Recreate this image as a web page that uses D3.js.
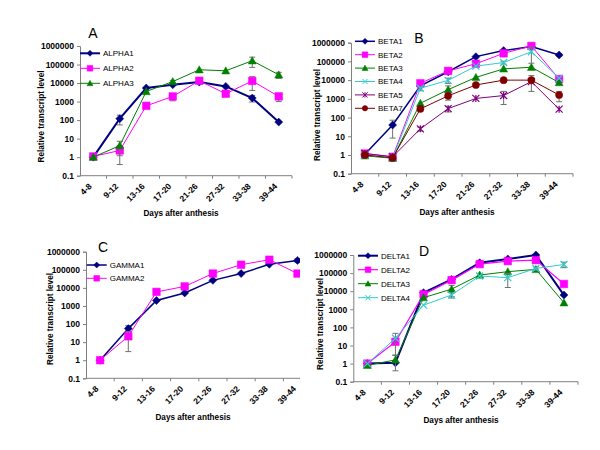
<!DOCTYPE html>
<html>
<head>
<meta charset="utf-8">
<script src="https://cdn.jsdelivr.net/npm/d3@7"></script>
<style>
  body { margin: 0; background: #fff; }
  svg text { font-family: Arial, "Liberation Sans", sans-serif; }
</style>
</head>
<body>
<div id="chart"></div>
<script>
// categories and log ticks
const categories = ["4-8", "9-12", "13-16", "17-20", "21-26", "27-32", "33-38", "39-44"];
const yTicks = [0.1, 1, 10, 100, 1000, 10000, 100000, 1000000];

// panel A
const alpha1 = [1, 120, 5400, 8100, 11300, 6600, 1550, 78];
const alpha1Err = [0, 65, 400, 0, 0, 0, 600, 0];
const alpha2 = [1.1, 2.3, 590, 1900, 13300, 2650, 13000, 1900];
const alpha2Err = [0, 1.9, 0, 800, 0, 0, 9000, 900];
const alpha3 = [1, 4.2, 3500, 12000, 52000, 46000, 160000, 28000];
const alpha3Err = [0, 3, 0, 2000, 0, 0, 90000, 10000];

// panel B
const beta1 = [1.1, 40, 4900, 28000, 180000, 380000, 620000, 220000];
const beta1Err = [0, 32, 0, 5000, 0, 0, 0, 30000];
const beta2 = [1.2, 0.8, 6800, 31000, 75000, 270000, 670000, 11500];
const beta2Err = [0.3, 0, 0, 0, 0, 0, 0, 0];
const beta3 = [0.9, 0.67, 580, 3100, 14000, 40000, 49000, 7400];
const beta3Err = [0, 0, 0, 1800, 0, 0, 0, 0];
const beta4 = [1, 0.7, 3700, 9700, 56000, 87000, 330000, 12600];
const beta4Err = [0, 0, 1000, 3000, 0, 15000, 250000, 0];
const beta5 = [1.2, 0.8, 25, 300, 1050, 1500, 8300, 280];
const beta5Err = [0.4, 0, 6, 100, 0, 1000, 0, 0];
const beta7 = [1, 0.7, 290, 1450, 5500, 10000, 10000, 1600];
const beta7Err = [0.3, 0, 0, 600, 0, 0, 7500, 900];

// panel C
const gamma1 = [1, 56, 2000, 5200, 26000, 62000, 200000, 330000];
const gamma1Err = [0.3, 25, 0, 0, 0, 0, 0, 80000];
const gamma2 = [1, 21, 6000, 12000, 62000, 190000, 360000, 62000];
const gamma2Err = [0, 18, 0, 0, 0, 0, 0, 0];

// panel D
const delta1 = [1, 1.1, 8300, 45000, 370000, 600000, 1000000, 6100];
const delta1Err = [0, 0, 0, 0, 0, 0, 0, 0];
const delta2 = [1, 16, 6700, 41000, 315000, 460000, 520000, 25000];
const delta2Err = [0, 0, 0, 10000, 0, 0, 0, 0];
const delta3 = [0.8, 1.6, 4400, 13000, 78000, 120000, 160000, 2300];
const delta3Err = [0, 1.2, 0, 8000, 0, 0, 0, 0];
const delta4 = [1, 25, 1700, 6200, 69000, 56000, 180000, 300000];
const delta4Err = [0, 22, 0, 2000, 0, 40000, 40000, 100000];

const NAVY = "#000080", MAG = "#ff00ff", GREEN = "#008000", CYAN = "#33cccc",
      PURPLE = "#800080", BROWN = "#800000";

const panels = [
  { letter: "A", ox: 0, oy: 0, left: 80, right: 292, top: 46, bottom: 175.7,
    letterPos: [93, 38], legend: { x: 80, y: 53.3, dy: 15 },
    ylab: [44, 116.5], xlab: [181, 215.5],
    series: [
      { name: "ALPHA1", v: alpha1, e: alpha1Err, c: NAVY, m: "diamond", w: 2 },
      { name: "ALPHA2", v: alpha2, e: alpha2Err, c: MAG, m: "square", w: 1 },
      { name: "ALPHA3", v: alpha3, e: alpha3Err, c: GREEN, m: "triangle", w: 1 }
    ] },
  { letter: "B", ox: 300, oy: 0, left: 51, right: 273, top: 42.7, bottom: 173.7,
    letterPos: [119, 43], legend: { x: 55, y: 41.3, dy: 13.4 },
    ylab: [19.5, 115], xlab: [157, 215],
    series: [
      { name: "BETA1", v: beta1, e: beta1Err, c: NAVY, m: "diamond", w: 1.5 },
      { name: "BETA2", v: beta2, e: beta2Err, c: MAG, m: "square", w: 1 },
      { name: "BETA3", v: beta3, e: beta3Err, c: GREEN, m: "triangle", w: 1 },
      { name: "BETA4", v: beta4, e: beta4Err, c: CYAN, m: "x", w: 1 },
      { name: "BETA5", v: beta5, e: beta5Err, c: PURPLE, m: "star", w: 1 },
      { name: "BETA7", v: beta7, e: beta7Err, c: BROWN, m: "circle", w: 1 }
    ] },
  { letter: "C", ox: 0, oy: 225, left: 86, right: 311.6, top: 26.7, bottom: 153.3,
    letterPos: [103, 26.5], legend: { x: 86.7, y: 40, dy: 13.3 },
    ylab: [53, 94], xlab: [193, 194.5],
    series: [
      { name: "GAMMA1", v: gamma1, e: gamma1Err, c: NAVY, m: "diamond", w: 1.5 },
      { name: "GAMMA2", v: gamma2, e: gamma2Err, c: MAG, m: "square", w: 1 }
    ] },
  { letter: "D", ox: 300, oy: 225, left: 53.3, right: 278, top: 30, bottom: 156.7,
    letterPos: [124, 31], legend: { x: 58, y: 30.7, dy: 14 },
    ylab: [23.3, 99], xlab: [161, 198],
    series: [
      { name: "DELTA1", v: delta1, e: delta1Err, c: NAVY, m: "diamond", w: 2 },
      { name: "DELTA2", v: delta2, e: delta2Err, c: MAG, m: "square", w: 1.2 },
      { name: "DELTA3", v: delta3, e: delta3Err, c: GREEN, m: "triangle", w: 1 },
      { name: "DELTA4", v: delta4, e: delta4Err, c: CYAN, m: "x", w: 1 }
    ] }
];

// marker paths, r = half size
const markerPath = (m, r) => {
  switch (m) {
    case "diamond": return `M0,${-r}L${r},0L0,${r}L${-r},0Z`;
    case "square": return `M${-r},${-r}H${r}V${r}H${-r}Z`;
    case "triangle": return `M0,${-r}L${r},${r * 0.8}L${-r},${r * 0.8}Z`;
    case "x": return `M${-r},${-r}L${r},${r}M${-r},${r}L${r},${-r}`;
    case "star": return `M${-r},${-r}L${r},${r}M${-r},${r}L${r},${-r}M0,${-r}V${r}`;
    case "circle": return `M${r},0A${r},${r} 0 1,1 ${-r},0A${r},${r} 0 1,1 ${r},0Z`;
  }
};
const markerSize = { diamond: 4, square: 3.8, triangle: 4, x: 3.5, star: 3.5, circle: 3.6 };
const isStroke = m => m === "x" || m === "star";

const root = d3.select("#chart").append("svg")
    .attr("width", 600)
    .attr("height", 450)
    .style("background", "#fff");

panels.forEach(p => {
  const svg = root.append("svg")
      .attr("x", p.ox).attr("y", p.oy)
      .attr("width", 300).attr("height", 225)
      .style("overflow", "hidden");

  const x = d3.scaleBand().domain(categories).range([p.left, p.right]).padding(0);
  const y = d3.scaleLog().domain([0.1, 1000000]).range([p.bottom, p.top]);
  const cx = d => x(d) + x.bandwidth() / 2;

  // y axis
  const yAxis = svg.append("g")
      .attr("transform", `translate(${p.left},0)`)
      .call(d3.axisLeft(y).tickValues(yTicks).tickSize(3).tickPadding(3)
        .tickFormat(d => d < 1 ? "0.1" : d3.format("d")(d)));
  yAxis.select(".domain").attr("stroke", "#808080");
  yAxis.selectAll(".tick line").attr("stroke", "#808080");
  yAxis.selectAll("text").attr("font-size", 8.5).attr("font-weight", "bold").attr("fill", "#000");

  // x axis, ticks between categories
  const xg = svg.append("g").attr("transform", `translate(0,${p.bottom})`);
  xg.append("line").attr("x1", p.left).attr("x2", p.right).attr("stroke", "#808080");
  xg.selectAll(".xt").data(categories.slice(1).concat(["end"]))
    .enter().append("line")
      .attr("x1", (d, i) => p.left + (i + 1) * x.bandwidth())
      .attr("x2", (d, i) => p.left + (i + 1) * x.bandwidth())
      .attr("y1", 0).attr("y2", 3)
      .attr("stroke", "#808080");
  xg.selectAll(".xl").data(categories)
    .enter().append("text")
      .attr("transform", d => `translate(${cx(d) - 3},9) rotate(-45)`)
      .attr("text-anchor", "end")
      .attr("dy", "0.35em")
      .attr("font-size", 8.5)
      .attr("font-weight", "bold")
      .text(d => d);

  // axis titles
  svg.append("text")
      .attr("transform", `translate(${p.ylab[0]},${p.ylab[1]}) rotate(-90)`)
      .attr("text-anchor", "middle")
      .attr("font-size", 8.2).attr("font-weight", "bold")
      .text("Relative transcript level");
  svg.append("text")
      .attr("x", p.xlab[0]).attr("y", p.xlab[1])
      .attr("text-anchor", "middle")
      .attr("font-size", 8.2).attr("font-weight", "bold")
      .text("Days after anthesis");

  // panel letter
  svg.append("text")
      .attr("x", p.letterPos[0]).attr("y", p.letterPos[1])
      .attr("text-anchor", "middle")
      .attr("font-size", 14)
      .text(p.letter);

  // series
  p.series.forEach(s => {
    const pts = categories.map((c, i) => ({ c, v: s.v[i], e: s.e[i] }));

    // error bars
    const eb = svg.append("g").attr("stroke", "#707070").attr("stroke-width", 1);
    pts.filter(d => d.e > 0).forEach(d => {
      const hi = y(d.v + d.e), lo = y(Math.max(d.v - d.e, 0.1));
      const xx = cx(d.c);
      eb.append("line").attr("x1", xx).attr("x2", xx).attr("y1", hi).attr("y2", lo);
      eb.append("line").attr("x1", xx - 3).attr("x2", xx + 3).attr("y1", hi).attr("y2", hi);
      eb.append("line").attr("x1", xx - 3).attr("x2", xx + 3).attr("y1", lo).attr("y2", lo);
    });

    svg.append("path")
        .datum(pts)
        .attr("fill", "none")
        .attr("stroke", s.c)
        .attr("stroke-width", s.w)
        .attr("d", d3.line().x(d => cx(d.c)).y(d => y(d.v)));

    svg.selectAll(null).data(pts)
      .enter().append("path")
        .attr("transform", d => `translate(${cx(d.c)},${y(d.v)})`)
        .attr("d", markerPath(s.m, markerSize[s.m]))
        .attr("fill", isStroke(s.m) ? "none" : s.c)
        .attr("stroke", s.c)
        .attr("stroke-width", isStroke(s.m) ? 1.2 : 0.5);
  });

  // legend
  const lg = svg.append("g");
  p.series.forEach((s, i) => {
    const yy = p.legend.y + i * p.legend.dy;
    lg.append("line")
        .attr("x1", p.legend.x).attr("x2", p.legend.x + 20)
        .attr("y1", yy).attr("y2", yy)
        .attr("stroke", s.c).attr("stroke-width", s.w);
    lg.append("path")
        .attr("transform", `translate(${p.legend.x + 10},${yy})`)
        .attr("d", markerPath(s.m, markerSize[s.m] * 0.75))
        .attr("fill", isStroke(s.m) ? "none" : s.c)
        .attr("stroke", s.c)
        .attr("stroke-width", isStroke(s.m) ? 1 : 0.5);
    lg.append("text")
        .attr("x", p.legend.x + 23).attr("y", yy)
        .attr("dy", "0.35em")
        .attr("font-size", 8)
        .text(s.name);
  });
});
</script>
</body>
</html>
